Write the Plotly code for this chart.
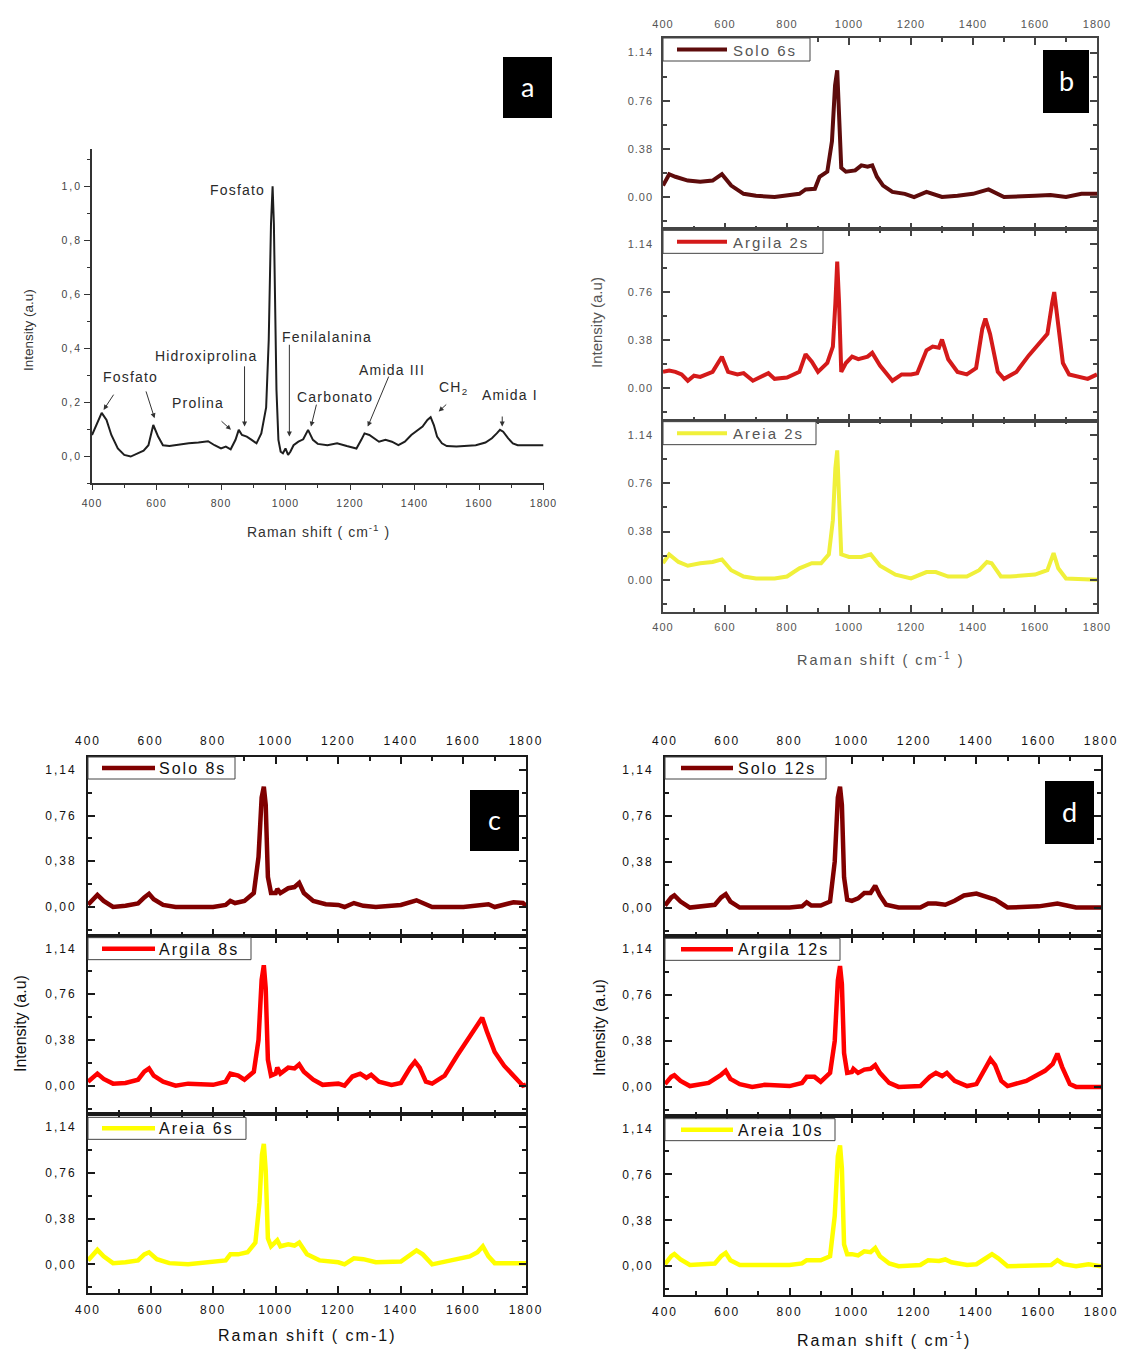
import plotly.graph_objects as go

# ---------------- data ----------------
X_TICKS = [400, 600, 800, 1000, 1200, 1400, 1600, 1800]
X_MINOR = [500, 700, 900, 1100, 1300, 1500, 1700]
STACK_Y_TICKS = [0.0, 0.38, 0.76, 1.14]
STACK_Y_MINOR = [-0.19, 0.19, 0.57, 0.95]
STACK_LABELS_DOT = ["0.00", "0.38", "0.76", "1.14"]
STACK_LABELS_COMMA = ["0,00", "0,38", "0,76", "1,14"]
A_Y_TICKS = [0.0, 0.2, 0.4, 0.6, 0.8, 1.0]
A_Y_LABELS = ["0,0", "0,2", "0,4", "0,6", "0,8", "1,0"]
A_Y_MINOR = [-0.1, 0.1, 0.3, 0.5, 0.7, 0.9, 1.1]

# panel a (reference spectrum)
A_X = [400, 415, 430, 445, 460, 480, 500, 520, 540, 560, 575, 590, 605, 620, 640, 670, 700, 730, 760, 780,
       800, 815, 830, 845, 855, 865, 880, 895, 910, 925, 940, 948, 955, 960, 964, 968, 972, 978, 985, 992,
       1000, 1008, 1015, 1025, 1040, 1055, 1070, 1085, 1100, 1130, 1160, 1190, 1220, 1235, 1245, 1260, 1275,
       1290, 1310, 1330, 1350, 1370, 1390, 1410, 1425, 1440, 1450, 1460, 1470, 1485, 1500, 1530, 1560, 1590,
       1620, 1640, 1655, 1665, 1675, 1690, 1705, 1720, 1760, 1800]
A_Y = [0.078, 0.12, 0.16, 0.134, 0.078, 0.028, 0.004, -0.002, 0.01, 0.02, 0.04, 0.115, 0.072, 0.04, 0.037, 0.043,
       0.047, 0.05, 0.055, 0.04, 0.028, 0.035, 0.025, 0.06, 0.097, 0.078, 0.072, 0.06, 0.047, 0.084, 0.18, 0.43,
       0.86, 1.0, 0.86, 0.55, 0.245, 0.06, 0.016, 0.01, 0.028, 0.004, 0.016, 0.04, 0.053, 0.062, 0.097, 0.06,
       0.045, 0.04, 0.047, 0.037, 0.028, 0.06, 0.084, 0.078, 0.066, 0.053, 0.06, 0.053, 0.04, 0.053, 0.078, 0.097,
       0.109, 0.134, 0.144, 0.115, 0.072, 0.047, 0.037, 0.035, 0.037, 0.04, 0.05, 0.066, 0.084, 0.097, 0.09,
       0.066, 0.047, 0.04, 0.04, 0.04]

# panel b
B_SOLO_X = [400, 420, 440, 480, 520, 560, 590, 620, 660, 700, 760, 800, 840, 860, 890, 905, 930, 945, 955, 962,
            968, 975, 990, 1020, 1040, 1060, 1075, 1090, 1110, 1140, 1180, 1210, 1250, 1280, 1300, 1350, 1400,
            1450, 1480, 1500, 1600, 1650, 1700, 1750, 1800]
B_SOLO_Y = [0.09, 0.18, 0.16, 0.13, 0.12, 0.13, 0.18, 0.09, 0.025, 0.01, 0.0, 0.01, 0.025, 0.06, 0.065, 0.16, 0.2,
            0.44, 0.88, 1.0, 0.71, 0.23, 0.2, 0.21, 0.25, 0.24, 0.25, 0.16, 0.09, 0.04, 0.025, 0.0, 0.04, 0.015,
            0.0, 0.01, 0.025, 0.06, 0.025, 0.0, 0.01, 0.015, 0.0, 0.025, 0.025]
B_ARGILA_X = [400, 420, 440, 460, 480, 500, 520, 560, 590, 610, 640, 660, 690, 720, 740, 760, 800, 840, 860, 880,
              900, 930, 948, 956, 962, 968, 975, 990, 1010, 1030, 1060, 1075, 1100, 1140, 1170, 1200, 1220, 1250,
              1270, 1290, 1300, 1320, 1350, 1380, 1410, 1430, 1440, 1455, 1480, 1500, 1540, 1580, 1620, 1640,
              1655, 1662, 1675, 1690, 1710, 1740, 1770, 1800]
B_ARGILA_Y = [0.13, 0.14, 0.13, 0.11, 0.06, 0.10, 0.09, 0.13, 0.25, 0.13, 0.11, 0.12, 0.06, 0.10, 0.12, 0.075,
              0.085, 0.13, 0.27, 0.21, 0.13, 0.20, 0.33, 0.67, 1.0, 0.67, 0.13, 0.2, 0.25, 0.23, 0.25, 0.28, 0.18,
              0.06, 0.11, 0.11, 0.12, 0.30, 0.33, 0.32, 0.385, 0.23, 0.13, 0.11, 0.16, 0.47, 0.55, 0.43, 0.13,
              0.075, 0.13, 0.26, 0.37, 0.43, 0.67, 0.76, 0.5, 0.2, 0.11, 0.09, 0.075, 0.11]
B_AREIA_X = [400, 420, 450, 480, 520, 560, 590, 620, 660, 700, 760, 800, 840, 880, 910, 935, 948, 956, 962, 968,
             975, 1000, 1040, 1070, 1100, 1150, 1200, 1250, 1280, 1320, 1380, 1420, 1445, 1460, 1490, 1520, 1600,
             1640, 1660, 1675, 1700, 1800]
B_AREIA_Y = [0.13, 0.2, 0.14, 0.11, 0.13, 0.14, 0.16, 0.075, 0.025, 0.01, 0.01, 0.025, 0.09, 0.13, 0.13, 0.2, 0.47,
             0.88, 1.02, 0.64, 0.2, 0.18, 0.18, 0.2, 0.11, 0.04, 0.01, 0.06, 0.06, 0.025, 0.025, 0.075, 0.14, 0.13,
             0.025, 0.025, 0.04, 0.075, 0.21, 0.09, 0.01, 0.0]

# panel c
C_SOLO_X = [400, 420, 430, 450, 480, 520, 560, 580, 595, 610, 640, 680, 800, 840, 855, 870, 900, 930, 945, 955,
            962, 968, 975, 985, 1000, 1005, 1015, 1040, 1060, 1075, 1090, 1120, 1160, 1200, 1220, 1250, 1280,
            1320, 1400, 1450, 1470, 1500, 1600, 1680, 1700, 1760, 1790, 1800]
C_SOLO_Y = [0.02, 0.08, 0.10, 0.05, 0.0, 0.01, 0.03, 0.08, 0.11, 0.065, 0.017, 0.0, 0.0, 0.017, 0.05, 0.033, 0.05,
            0.116, 0.415, 0.91, 1.0, 0.85, 0.25, 0.116, 0.116, 0.15, 0.116, 0.156, 0.166, 0.2, 0.116, 0.05, 0.023,
            0.017, 0.0, 0.033, 0.01, 0.0, 0.017, 0.056, 0.033, 0.0, 0.0, 0.023, 0.0, 0.04, 0.033, 0.01]
C_ARGILA_X = [400, 420, 430, 450, 480, 520, 560, 580, 595, 610, 640, 680, 720, 800, 840, 855, 880, 900, 930, 945,
              955, 962, 968, 975, 985, 1000, 1005, 1015, 1040, 1060, 1075, 1090, 1120, 1150, 1200, 1220, 1245,
              1270, 1290, 1305, 1330, 1370, 1400, 1430, 1445, 1460, 1480, 1500, 1540, 1580, 1620, 1645, 1660,
              1675, 1700, 1730, 1760, 1790, 1800]
C_ARGILA_Y = [0.033, 0.083, 0.1, 0.056, 0.017, 0.023, 0.05, 0.116, 0.143, 0.083, 0.033, 0.0, 0.017, 0.007, 0.033,
              0.1, 0.083, 0.05, 0.116, 0.38, 0.88, 1.0, 0.81, 0.216, 0.083, 0.1, 0.15, 0.1, 0.15, 0.143, 0.176,
              0.116, 0.05, 0.007, 0.017, 0.0, 0.076, 0.1, 0.066, 0.09, 0.033, 0.007, 0.023, 0.15, 0.2, 0.15, 0.033,
              0.017, 0.083, 0.25, 0.4, 0.5, 0.565, 0.45, 0.28, 0.166, 0.083, 0.0, 0.01]
C_AREIA_X = [400, 420, 430, 450, 480, 520, 560, 580, 595, 620, 660, 720, 800, 840, 855, 880, 910, 935, 948, 956,
             962, 968, 975, 985, 1005, 1015, 1040, 1060, 1075, 1100, 1140, 1200, 1220, 1250, 1280, 1320, 1400,
             1430, 1450, 1470, 1500, 1560, 1620, 1645, 1662, 1680, 1700, 1800]
C_AREIA_Y = [0.033, 0.1, 0.12, 0.066, 0.01, 0.017, 0.033, 0.083, 0.1, 0.043, 0.01, 0.0, 0.017, 0.033, 0.083, 0.083,
             0.1, 0.18, 0.51, 0.91, 1.0, 0.78, 0.216, 0.15, 0.2, 0.15, 0.166, 0.156, 0.18, 0.083, 0.033, 0.017,
             0.0, 0.05, 0.043, 0.017, 0.023, 0.083, 0.116, 0.083, 0.0, 0.033, 0.066, 0.1, 0.15, 0.066, 0.01, 0.01]

# panel d
D_SOLO_X = [400, 420, 430, 450, 480, 560, 580, 595, 610, 640, 800, 840, 855, 870, 900, 930, 945, 955, 962, 968,
            975, 985, 1000, 1020, 1040, 1060, 1075, 1090, 1110, 1150, 1220, 1245, 1270, 1300, 1330, 1360, 1400,
            1430, 1460, 1490, 1500, 1600, 1660, 1690, 1720, 1800]
D_SOLO_Y = [0.017, 0.083, 0.1, 0.05, 0.0, 0.023, 0.083, 0.11, 0.05, 0.0, 0.0, 0.01, 0.043, 0.017, 0.017, 0.05, 0.38,
            0.91, 1.0, 0.85, 0.25, 0.066, 0.056, 0.076, 0.12, 0.12, 0.18, 0.1, 0.023, 0.0, 0.0, 0.033, 0.033, 0.023,
            0.056, 0.1, 0.116, 0.09, 0.066, 0.017, 0.0, 0.01, 0.033, 0.017, 0.0, 0.0]
D_ARGILA_X = [400, 420, 430, 450, 480, 540, 580, 595, 610, 640, 680, 720, 800, 840, 855, 880, 900, 930, 945, 955,
              962, 968, 975, 985, 1000, 1005, 1020, 1040, 1060, 1075, 1090, 1120, 1150, 1220, 1250, 1270, 1290,
              1305, 1330, 1370, 1400, 1430, 1445, 1460, 1480, 1500, 1560, 1620, 1645, 1660, 1675, 1700, 1720, 1800]
D_ARGILA_Y = [0.023, 0.083, 0.096, 0.05, 0.007, 0.033, 0.1, 0.133, 0.066, 0.023, 0.0, 0.017, 0.007, 0.033, 0.083,
              0.083, 0.043, 0.116, 0.38, 0.88, 1.0, 0.85, 0.28, 0.116, 0.123, 0.15, 0.116, 0.143, 0.15, 0.18, 0.116,
              0.033, 0.0, 0.007, 0.083, 0.116, 0.09, 0.116, 0.05, 0.007, 0.023, 0.15, 0.23, 0.18, 0.05, 0.007, 0.05,
              0.133, 0.19, 0.276, 0.166, 0.023, 0.0, 0.0]
D_AREIA_X = [400, 420, 430, 450, 480, 560, 580, 595, 610, 640, 800, 840, 855, 900, 930, 945, 955, 962, 968, 975,
             985, 1000, 1020, 1040, 1060, 1075, 1090, 1120, 1150, 1220, 1245, 1280, 1300, 1320, 1370, 1400, 1430,
             1450, 1470, 1500, 1640, 1660, 1680, 1720, 1760, 1800]
D_AREIA_Y = [0.017, 0.083, 0.1, 0.056, 0.01, 0.023, 0.083, 0.11, 0.05, 0.01, 0.01, 0.023, 0.05, 0.05, 0.083, 0.415,
             0.91, 1.0, 0.81, 0.18, 0.1, 0.1, 0.09, 0.123, 0.116, 0.15, 0.083, 0.023, 0.0, 0.01, 0.05, 0.043, 0.056,
             0.033, 0.01, 0.017, 0.066, 0.1, 0.066, 0.0, 0.01, 0.05, 0.017, 0.0, 0.017, 0.0]

NAMES_B = ["Solo 6s", "Argila 2s", "Areia 2s"]
NAMES_C = ["Solo 8s", "Argila 8s", "Areia 6s"]
NAMES_D = ["Solo 12s", "Argila 12s", "Areia 10s"]

# ---------------- layout helpers ----------------
W, H = 1124, 1349
FONT = "Liberation Sans, Arial, sans-serif"


def px(v):
    return v / W


def py(v):
    return 1 - v / H


def sp(t, s):
    return f'<span style="letter-spacing:{s}px">{t}</span>'


def note(text, x, y, size, color, angle=0, xanchor="center", family=FONT):
    return dict(text=text, x=px(x), y=py(y), xref="paper", yref="paper", xanchor=xanchor, yanchor="middle",
                textangle=angle, showarrow=False, font=dict(size=size, color=color, family=family))


fig = go.Figure()
layout = dict(width=W, height=H, margin=dict(l=0, r=0, t=0, b=0, autoexpand=False), paper_bgcolor="white",
              plot_bgcolor="rgba(0,0,0,0)", showlegend=False, font=dict(family=FONT))
shapes, annotations = [], []

# ---------------- panel a ----------------
fig.add_trace(go.Scatter(x=A_X, y=A_Y, mode="lines", line=dict(color="#1e1e1e", width=2),
                         xaxis="x", yaxis="y", hoverinfo="skip"))
ac = "#333333"
layout["xaxis"] = dict(domain=[px(92), px(543.5)], range=[400, 1800], anchor="y", showline=True, linecolor=ac,
                       linewidth=1.5, ticks="outside", ticklen=5, tickcolor=ac, tickwidth=1.2,
                       tickmode="array", tickvals=X_TICKS, ticktext=[sp(v, 1) for v in X_TICKS],
                       tickfont=dict(size=10.5, color="#444"), showgrid=False, zeroline=False,
                       automargin=False, ticklabelstandoff=5,
                       minor=dict(tickmode="array", tickvals=X_MINOR, ticks="outside", ticklen=3,
                                  tickcolor=ac, tickwidth=1))
layout["yaxis"] = dict(domain=[py(483), py(149)], range=[-0.1, 1.138], anchor="x", showline=True, linecolor=ac,
                       linewidth=1.5, ticks="outside", ticklen=6, tickcolor=ac, tickwidth=1.2,
                       tickmode="array", tickvals=A_Y_TICKS, ticktext=[sp(v, 2) for v in A_Y_LABELS],
                       tickfont=dict(size=10.5, color="#444"), showgrid=False, zeroline=False,
                       automargin=False,
                       minor=dict(tickmode="array", tickvals=A_Y_MINOR, ticks="outside", ticklen=3,
                                  tickcolor=ac, tickwidth=1))

a_labels = [("Fosfato", 850, 0.985, "center"), ("Fosfato", 518, 0.293, "center"),
            ("Hidroxiprolina", 753, 0.371, "center"), ("Prolina", 728, 0.196, "center"),
            ("Fenilalanina", 1130, 0.443, "center"), ("Carbonato", 1155, 0.22, "center"),
            ("Amida III", 1330, 0.319, "center"), ("CH<sub>2</sub>", 1469, 0.251, "left"),
            ("Amida I", 1695, 0.226, "center")]
for t, x, y, anc in a_labels:
    annotations.append(dict(text=sp(t, 1.2), x=x, y=y, xref="x", yref="y", xanchor=anc, yanchor="middle",
                            showarrow=False, font=dict(size=14, color="#2a2a2a", family=FONT)))
a_arrows = [(470, 0.233, 436, 0.171), (566, 0.245, 594, 0.14), (873, 0.338, 873, 0.109),
            (797, 0.134, 831, 0.097), (1012, 0.418, 1012, 0.072), (1097, 0.196, 1079, 0.109),
            (1322, 0.30, 1255, 0.109), (1503, 0.196, 1475, 0.165), (1672, 0.152, 1672, 0.109)]
for tx, ty, hx, hy in a_arrows:
    annotations.append(dict(text="", x=hx, y=hy, ax=tx, ay=ty, xref="x", yref="y", axref="x", ayref="y",
                            showarrow=True, arrowhead=2, arrowsize=1, arrowwidth=1, arrowcolor="#333",
                            standoff=0, startstandoff=0))
annotations.append(note(sp("Raman shift ( cm<sup>-1</sup> )", 1), 318, 531, 14, "#333"))
annotations.append(note("Intensity (a.u)", 28, 330, 13.5, "#333", angle=-90))


# ---------------- stacked panels ----------------
def stacked(n0, xl, xr, yt, yb, yr, series, names, ylabels, st):
    hgt = (yb - yt) / 3
    for i, ((xs, ys, col), name) in enumerate(zip(series, names)):
        n = n0 + i
        top = yt + i * hgt
        bot = top + hgt
        fig.add_trace(go.Scatter(x=xs, y=ys, mode="lines", line=dict(color=col, width=st["lw_data"]),
                                 xaxis=f"x{n}", yaxis=f"y{n}", hoverinfo="skip"))
        layout[f"xaxis{n}"] = dict(
            domain=[px(xl), px(xr)], range=[400, 1800], anchor=f"y{n}", showline=True, linecolor=st["lc"],
            linewidth=st["lw"], mirror="ticks", ticks="inside", ticklen=7, tickwidth=st["lw"],
            tickcolor=st["lc"], tickmode="array", tickvals=X_TICKS,
            ticktext=[sp(v, st["tsp"]) for v in X_TICKS], showticklabels=(i != 1),
            side="top" if i == 0 else "bottom", tickfont=dict(size=st["tfs"], color=st["tc"]),
            ticklabelstandoff=st["xstand"], showgrid=False, zeroline=False, automargin=False,
            minor=dict(tickmode="array", tickvals=X_MINOR, ticks="inside", ticklen=4, tickwidth=st["lw"],
                       tickcolor=st["lc"]))
        layout[f"yaxis{n}"] = dict(
            domain=[py(bot), py(top)], range=yr, anchor=f"x{n}", showline=True, linecolor=st["lc"],
            linewidth=st["lw"], mirror="ticks", ticks="inside", ticklen=7, tickwidth=st["lw"],
            tickcolor=st["lc"], tickmode="array", tickvals=STACK_Y_TICKS,
            ticktext=[sp(v, st["tsp"]) for v in ylabels], tickfont=dict(size=st["tfs"], color=st["tc"]),
            ticklabelstandoff=st["ystand"], showgrid=False, zeroline=False, automargin=False,
            minor=dict(tickmode="array", tickvals=STACK_Y_MINOR, ticks="inside", ticklen=4,
                       tickwidth=st["lw"], tickcolor=st["lc"]))
        # legend box
        bw = st["bw"][i]
        by0 = top + st["boff"][i]
        by1 = by0 + st["bh"]
        shapes.append(dict(type="rect", xref="paper", yref="paper", x0=px(xl), x1=px(xl + bw), y0=py(by1),
                           y1=py(by0), fillcolor="white", line=dict(color="#444", width=1), layer="above"))
        ym = (by0 + by1) / 2
        shapes.append(dict(type="line", xref="paper", yref="paper", x0=px(xl + st["l0"]), x1=px(xl + st["l1"]),
                           y0=py(ym), y1=py(ym), line=dict(color=col, width=st["lw_leg"]), layer="above"))
        annotations.append(note(sp(name, 2), xl + st["t0"], ym + 0.5, st["lfs"], st["tc"], xanchor="left"))


st_b = dict(lw_data=4, lc="#444", lw=1.5, tsp=1, tfs=11, tc="#555", xstand=4, ystand=6,
            bw=[147, 160, 153], boff=[0, 1, 1], bh=23, l0=14, l1=64, t0=68, lw_leg=4, lfs=15)
stacked(2, 663, 1097, 38, 612, [-0.255, 1.255],
        [(B_SOLO_X, B_SOLO_Y, "#5e0c0c"), (B_ARGILA_X, B_ARGILA_Y, "#d41a1a"),
         (B_AREIA_X, B_AREIA_Y, "#f0f03a")], NAMES_B, STACK_LABELS_DOT, st_b)

st_c = dict(lw_data=4.5, lc="#1a1a1a", lw=2, tsp=2, tfs=12, tc="#111111", xstand=5, ystand=7,
            bw=[147, 163, 158], boff=[0, 2, 3], bh=22, l0=14, l1=67, t0=69, lw_leg=4.5, lfs=16)
stacked(5, 88, 526, 757, 1293, [-0.238, 1.246],
        [(C_SOLO_X, C_SOLO_Y, "#800000"), (C_ARGILA_X, C_ARGILA_Y, "#ff0000"),
         (C_AREIA_X, C_AREIA_Y, "#ffff00")], NAMES_C, STACK_LABELS_COMMA, st_c)

st_d = dict(lw_data=4.5, lc="#1a1a1a", lw=2, tsp=2, tfs=12, tc="#111111", xstand=5, ystand=7,
            bw=[161, 175, 170], boff=[0, 2, 3], bh=22, l0=16, l1=68, t0=71, lw_leg=4.5, lfs=16)
stacked(8, 665, 1101, 757, 1295, [-0.238, 1.246],
        [(D_SOLO_X, D_SOLO_Y, "#800000"), (D_ARGILA_X, D_ARGILA_Y, "#ff0000"),
         (D_AREIA_X, D_AREIA_Y, "#ffff00")], NAMES_D, STACK_LABELS_COMMA, st_d)

# axis titles of stacked panels
annotations += [
    note(sp("Raman shift ( cm<sup>-1</sup> )", 2), 880, 659, 14.5, "#555"),
    note("Intensity (a.u)", 596, 323, 15, "#555", angle=-90),
    note(sp("Raman shift ( cm-1)", 2), 307, 1335, 16, "#111111"),
    note("Intensity (a.u)", 20, 1024, 16, "#111111", angle=-90),
    note(sp("Raman shift ( cm<sup>-1</sup>)", 2), 884, 1339, 16, "#111111"),
    note("Intensity (a.u)", 599, 1028, 16, "#111111", angle=-90),
]

# panel letter boxes
for letter, x0, x1, y0, y1 in [("a", 503, 552, 57, 118), ("b", 1043, 1089, 50, 113),
                               ("c", 470, 519, 790, 851), ("d", 1045, 1094, 781, 844)]:
    shapes.append(dict(type="rect", xref="paper", yref="paper", x0=px(x0), x1=px(x1), y0=py(y1), y1=py(y0),
                       fillcolor="black", line=dict(width=0), layer="above"))
    annotations.append(note(letter, (x0 + x1) / 2, (y0 + y1) / 2 - 1, 27, "white",
                            family="Lato, Open Sans, sans-serif"))

layout["shapes"] = shapes
layout["annotations"] = annotations
fig.update_layout(**layout)

fig.write_html("out.html", config={"displayModeBar": False},
               post_script="document.body.style.margin='0';document.body.style.overflow='hidden';")
